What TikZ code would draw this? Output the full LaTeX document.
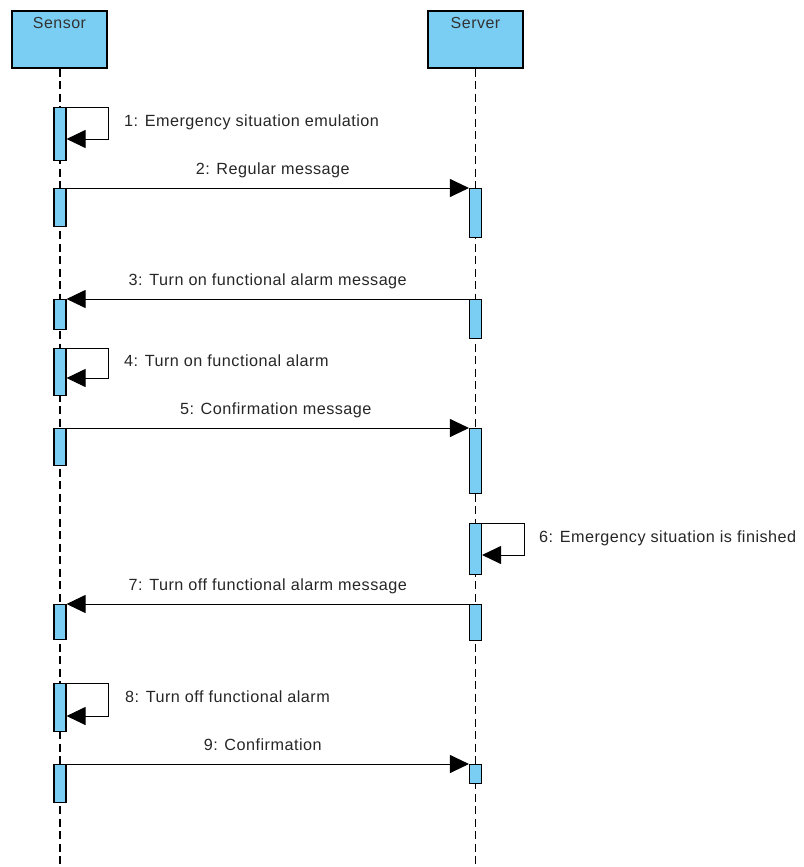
\documentclass[tikz,border=0pt]{standalone}
\usepackage{fontspec}
\setmainfont{Liberation Sans}[LetterSpace=3]
\usetikzlibrary{arrows.meta}
\definecolor{actfill}{RGB}{122,206,244}
\tikzset{
  head/.style={draw=black, line width=1.2pt, fill=actfill, minimum width=95pt, minimum height=57pt, inner sep=0pt},
  headname/.style={anchor=north, font=\fontsize{16}{18}\selectfont, text=black!80, inner sep=0pt},
  life/.style={draw=black, line width=1.2pt, dash pattern=on 8pt off 4.5pt},
  actbar/.style={draw=black, line width=1.1pt, fill=actfill, minimum width=12pt, inner sep=0pt, anchor=north},
  msg/.style={draw=black, line width=1pt, -{Triangle[length=19pt, width=18pt]}},
  msglabel/.style={font=\fontsize{16.2}{18}\selectfont, text=black!85, inner sep=0pt},
}
\begin{document}
\begin{tikzpicture}[x=1pt, y=-1pt]
  \useasboundingbox (0,0) rectangle (803,867);

  % lifeline heads
  \node[head] (sensor) at (59.5,39.5) {};
  \node[headname] (sensorname) at ([yshift=-7pt]sensor.north) {Sensor};
  \node[head] (server) at (475.5,39.5) {};
  \node[headname] (servername) at ([yshift=-7pt]server.north) {Server};

  % dashed lifelines
  \coordinate (sensorend) at (60,867);
  \coordinate (serverend) at (475.5,867);
  \draw[life] (sensor.south -| sensorend) -- (sensorend);
  \draw[life] (server.south -| serverend) -- (serverend);

  % activation bars of the sensor
  \node[actbar, minimum height=53pt] (s1) at (60,107) {};
  \node[actbar, minimum height=38pt] (s2) at (60,188) {};
  \node[actbar, minimum height=30pt] (s3) at (60,299) {};
  \node[actbar, minimum height=47pt] (s4) at (60,348) {};
  \node[actbar, minimum height=37pt] (s5) at (60,428) {};
  \node[actbar, minimum height=35pt] (s7) at (60,604) {};
  \node[actbar, minimum height=48pt] (s8) at (60,683) {};
  \node[actbar, minimum height=38pt] (s9) at (60,764) {};

  % activation bars of the server
  \node[actbar, minimum height=49pt] (v2) at (475.5,188) {};
  \node[actbar, minimum height=39pt] (v3) at (475.5,299) {};
  \node[actbar, minimum height=65pt] (v5) at (475.5,428) {};
  \node[actbar, minimum height=51pt] (v6) at (475.5,523) {};
  \node[actbar, minimum height=36pt] (v7) at (475.5,604) {};
  \node[actbar, minimum height=19pt] (v9) at (475.5,764) {};

  % self messages
  \coordinate (l1) at (108,139);
  \draw[msg] (s1.north east) -| (l1) -- (l1 -| s1.east);
  \node[msglabel, anchor=base west] (t1) at (124,126) {1: Emergency situation emulation};

  \coordinate (l4) at (108,378);
  \draw[msg] (s4.north east) -| (l4) -- (l4 -| s4.east);
  \node[msglabel, anchor=base west] (t4) at (124,366) {4: Turn on functional alarm};

  \coordinate (l6) at (524,555);
  \draw[msg] (v6.north east) -| (l6) -- (l6 -| v6.east);
  \node[msglabel, anchor=base west] (t6) at (539,542) {6: Emergency situation is finished};

  \coordinate (l8) at (108,716);
  \draw[msg] (s8.north east) -| (l8) -- (l8 -| s8.east);
  \node[msglabel, anchor=base west] (t8) at (125,702) {8: Turn off functional alarm};

  % messages between the lifelines
  \draw[msg] (s2.north east) -- node[msglabel, anchor=base, yshift=14pt, xshift=5pt] (t2) {2: Regular message} (v2.north west);
  \draw[msg] (v3.north west) -- node[msglabel, anchor=base, yshift=14pt] (t3) {3: Turn on functional alarm message} (s3.north east);
  \draw[msg] (s5.north east) -- node[msglabel, anchor=base, yshift=14pt, xshift=8pt] (t5) {5: Confirmation message} (v5.north west);
  \draw[msg] (v7.north west) -- node[msglabel, anchor=base, yshift=14pt] (t7) {7: Turn off functional alarm message} (s7.north east);
  \draw[msg] (s9.north east) -- node[msglabel, anchor=base, yshift=14pt, xshift=-5pt] (t9) {9: Confirmation} (v9.north west);
\end{tikzpicture}
\end{document}
